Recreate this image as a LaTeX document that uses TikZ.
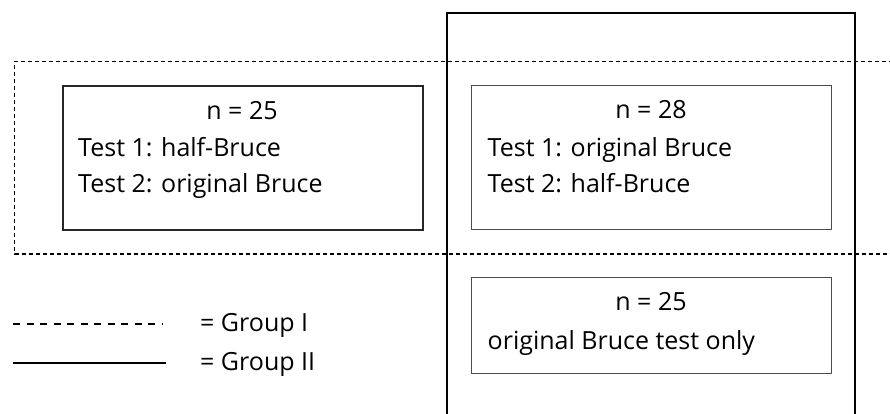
\documentclass[tikz,border=0pt]{standalone}
\usepackage{fontspec}
\setmainfont{Open Sans}
\begin{document}
\begin{tikzpicture}[x=1pt,y=-1pt,
  txt/.style={font=\fontsize{25}{29}\selectfont, inner sep=0pt, anchor=base west},
  ctxt/.style={font=\fontsize{25}{29}\selectfont, inner sep=0pt, anchor=base},
  leftbox/.style={draw=black!85, line width=1.6pt, minimum width=360pt, minimum height=144pt, inner sep=0pt, anchor=north west},
  rightbox/.style={draw=black!70, line width=1.4pt, minimum width=360pt, minimum height=144pt, inner sep=0pt, anchor=north west},
  lowbox/.style={rightbox, minimum height=96pt},
  groupone/.style={draw=black, line width=1.2pt, dash pattern=on 4pt off 3pt},
  grouptwo/.style={draw=black, line width=2.2pt},
  legdash/.style={draw=black, line width=2.2pt, dash pattern=on 7pt off 6.5pt},
  legsolid/.style={draw=black, line width=2.2pt}
]
\useasboundingbox (0,0) rectangle (890,414);
\clip (0,0) rectangle (890,414);
% Group I (dashed) frame
\coordinate (g1a) at (900,61.3);
\coordinate (g1b) at (14.7,61.3);
\coordinate (g1c) at (14.7,254);
\coordinate (g1d) at (900,254);
\draw[groupone] (g1a) -- (g1b) -- (g1c) -- (g1d);
% Group II (solid) frame
\coordinate (g2a) at (446.7,430);
\coordinate (g2b) at (446.7,13);
\coordinate (g2c) at (854.7,13);
\coordinate (g2d) at (854.7,430);
\draw[grouptwo] (g2a) -- (g2b) -- (g2c) -- (g2d);
% boxes
\node[leftbox] (bA) at (62,85) {};
\node[rightbox] (bB) at (471,85) {};
\node[lowbox] (bC) at (471,277) {};
% texts box A
\node[ctxt] (nA) at (242,119.5) {n = 25};
\node[txt] (tA1) at (78,157) {Test 1: half-Bruce};
\node[txt] (tA2) at (78,192.5) {Test 2: original Bruce};
% texts box B
\node[ctxt] (nB) at (651,118.5) {n = 28};
\node[txt] (tB1) at (487.5,157) {Test 1: original Bruce};
\node[txt] (tB2) at (487.5,192) {Test 2: half-Bruce};
% texts box C
\node[ctxt] (nC) at (651,310) {n = 25};
\node[txt] (tC1) at (487.5,349) {original Bruce test only};
% legend
\coordinate (l1a) at (13,324.3);
\coordinate (l1b) at (162,324.3);
\coordinate (l2a) at (13,362.7);
\coordinate (l2b) at (166,362.7);
\draw[legdash] (l1a) -- (l1b);
\draw[legsolid] (l2a) -- (l2b);
\node[txt] (lg1) at (200,331.7) {= Group I};
\node[txt] (lg2) at (200,370) {= Group II};
\end{tikzpicture}
\end{document}
